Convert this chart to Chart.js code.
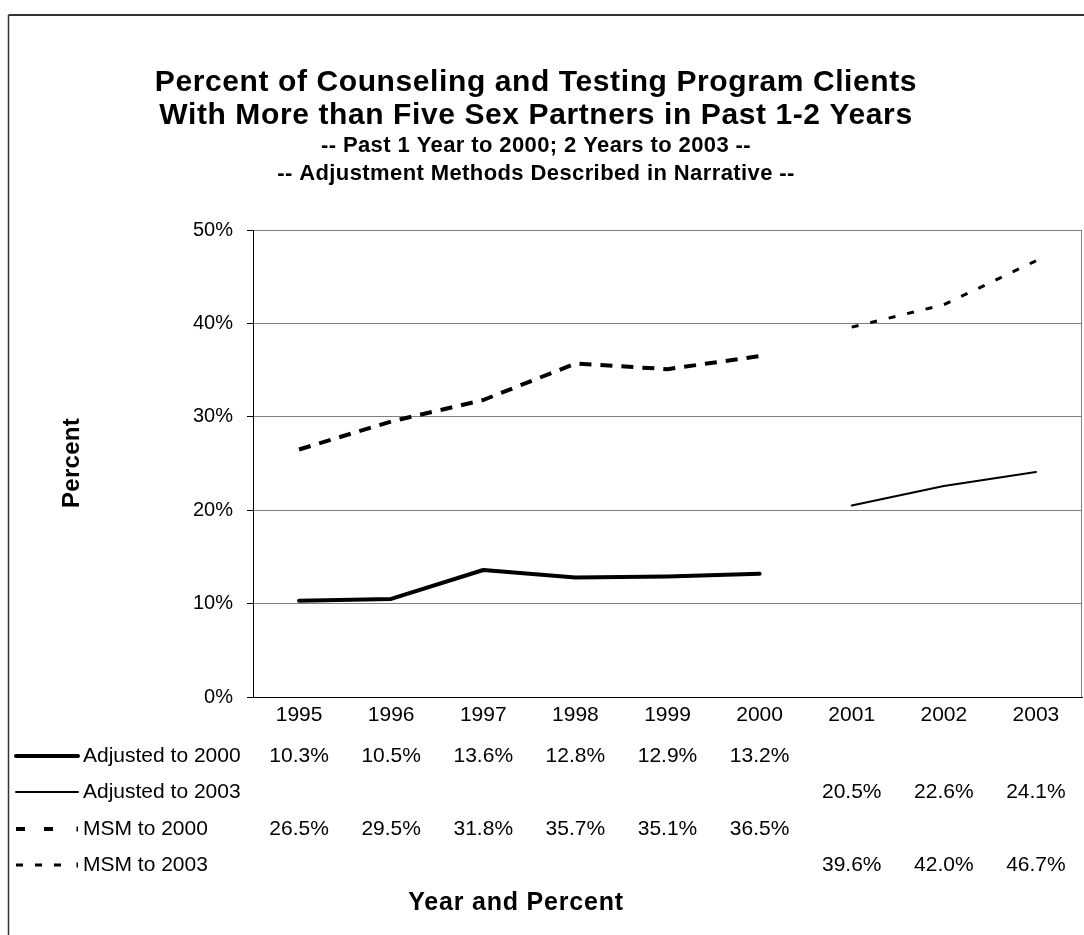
<!DOCTYPE html>
<html>
<head>
<meta charset="utf-8">
<script src="https://cdn.jsdelivr.net/npm/chart.js@4/dist/chart.umd.min.js"></script>
<style>
    body { margin: 0; background: #fff; }
    canvas { display: block; }
</style>
</head>
<body>
<canvas id="chart" width="1084" height="935"></canvas>
<script>
const years = ["1995", "1996", "1997", "1998", "1999", "2000", "2001", "2002", "2003"];
const adjusted2000 = [10.3, 10.5, 13.6, 12.8, 12.9, 13.2, null, null, null];
const adjusted2003 = [null, null, null, null, null, null, 20.5, 22.6, 24.1];
const msm2000 = [26.5, 29.5, 31.8, 35.7, 35.1, 36.5, null, null, null];
const msm2003 = [null, null, null, null, null, null, 39.6, 42.0, 46.7];
const seriesNames = ["Adjusted to 2000", "Adjusted to 2003", "MSM to 2000", "MSM to 2003"];
const titleLines = [
    "Percent of Counseling and Testing Program Clients",
    "With More than Five Sex Partners in Past 1-2 Years",
];
const subtitleLines = [
    "-- Past 1 Year to 2000; 2 Years to 2003 --",
    "-- Adjustment Methods Described in Narrative --",
];

const FONT = "'Liberation Sans', Arial, sans-serif";

const lineStyle = [
    { borderWidth: 4, borderDash: [], borderCapStyle: "round", keyDash: [] },
    { borderWidth: 2, borderDash: [], borderCapStyle: "round", keyDash: [] },
    { borderWidth: 4, borderDash: [12, 9], borderCapStyle: "butt", keyDash: [9, 19] },
    { borderWidth: 3, borderDash: [7, 12], borderCapStyle: "butt", keyDash: [7, 12] },
];

// frame, titles, data table
const decorations = {
    id: "decorations",
    beforeDatasetsDraw(chart) {
        const { ctx, chartArea: { top, right, bottom } } = chart;
        ctx.save();
        ctx.strokeStyle = "#808080";
        ctx.lineWidth = 1;
        ctx.beginPath();
        ctx.moveTo(right - 0.5, top);
        ctx.lineTo(right - 0.5, bottom);
        ctx.stroke();
        ctx.restore();
    },
    afterDraw(chart) {
        const { ctx, scales: { x } } = chart;
        ctx.save();

        // outer border
        ctx.strokeStyle = "#333";
        ctx.lineWidth = 2;
        ctx.beginPath();
        ctx.moveTo(1084, 15);
        ctx.lineTo(8.5, 15);
        ctx.stroke();
        ctx.lineWidth = 1.5;
        ctx.beginPath();
        ctx.moveTo(8.5, 15);
        ctx.lineTo(8.5, 935);
        ctx.stroke();

        ctx.fillStyle = "#000";
        ctx.textAlign = "center";
        ctx.textBaseline = "middle";

        ctx.letterSpacing = "0.6px";
        ctx.font = `bold 30px ${FONT}`;
        ctx.fillText(titleLines[0], 536, 83);
        ctx.fillText(titleLines[1], 536, 116);
        ctx.letterSpacing = "0.4px";
        ctx.font = `bold 22px ${FONT}`;
        ctx.fillText(subtitleLines[0], 536, 146);
        ctx.fillText(subtitleLines[1], 536, 174);

        // axis titles
        ctx.letterSpacing = "0.8px";
        ctx.font = `bold 25px ${FONT}`;
        ctx.fillText("Year and Percent", 516, 903);
        ctx.letterSpacing = "0.3px";
        ctx.font = `bold 24px ${FONT}`;
        ctx.save();
        ctx.translate(72, 463);
        ctx.rotate(-Math.PI / 2);
        ctx.fillText("Percent", 0, 0);
        ctx.restore();
        ctx.letterSpacing = "0px";

        // data table with legend keys
        const rows = [adjusted2000, adjusted2003, msm2000, msm2003];
        const rowY = [756, 792, 829, 865];
        rows.forEach((values, r) => {
            const y = rowY[r];
            const st = lineStyle[r];
            ctx.strokeStyle = "#000";
            ctx.lineWidth = st.borderWidth;
            ctx.lineCap = st.borderCapStyle;
            ctx.setLineDash(st.keyDash);
            ctx.beginPath();
            ctx.moveTo(16, y);
            ctx.lineTo(st.keyDash.length ? 72 : 78, y);
            ctx.stroke();
            ctx.setLineDash([]);
            if (st.keyDash.length) {
                ctx.fillRect(76.5, y - 2.5, 1.5, 5);
            }

            ctx.font = `21px ${FONT}`;
            ctx.textAlign = "left";
            ctx.fillText(seriesNames[r], 83, y);
            ctx.textAlign = "center";
            values.forEach((v, i) => {
                if (v === null) return;
                ctx.fillText(v.toFixed(1) + "%", x.getPixelForValue(i), y);
            });
        });

        ctx.restore();
    },
};

const data = {
    labels: years,
    datasets: [adjusted2000, adjusted2003, msm2000, msm2003].map((values, i) => ({
        label: seriesNames[i],
        data: values,
        borderColor: "#000",
        backgroundColor: "#000",
        borderWidth: lineStyle[i].borderWidth,
        borderDash: lineStyle[i].borderDash,
        borderCapStyle: lineStyle[i].borderCapStyle,
        borderJoinStyle: "round",
        pointRadius: 0,
        tension: 0,
        spanGaps: false,
    })),
};

new Chart(document.getElementById("chart"), {
    type: "line",
    data,
    options: {
        responsive: false,
        animation: false,
        layout: { padding: { top: 230, left: 0, right: 2, bottom: 0 } },
        plugins: {
            legend: { display: false },
            title: { display: false },
            tooltip: { enabled: false },
        },
        scales: {
            x: {
                offset: true,
                grid: { display: false, drawTicks: false },
                border: { color: "#000", width: 1 },
                ticks: { color: "#000", font: { family: FONT, size: 21 }, padding: 6, maxRotation: 0 },
                afterFit(scale) { scale.height = 238; },
            },
            y: {
                min: 0,
                max: 50,
                ticks: {
                    stepSize: 10,
                    color: "#000",
                    font: { family: FONT, size: 20 },
                    padding: 14,
                    callback: (v) => v + "%",
                },
                grid: { color: "#808080", tickColor: "#000", tickLength: 6 },
                border: { color: "#000", width: 1 },
                afterFit(scale) { scale.width = 253; },
            },
        },
    },
    plugins: [decorations],
});
</script>
</body>
</html>
